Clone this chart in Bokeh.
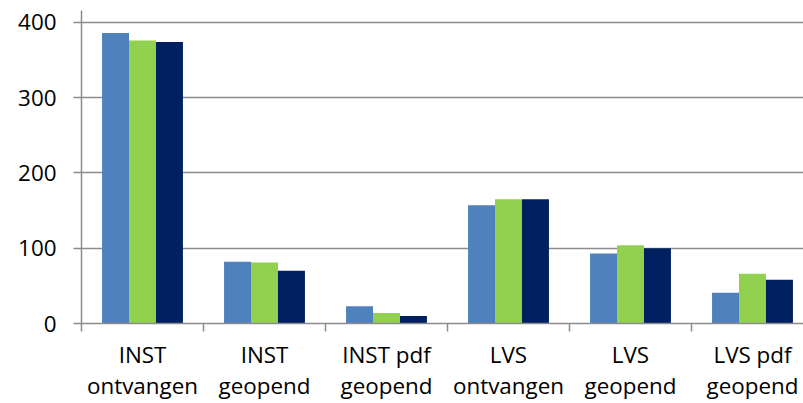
from bokeh.plotting import figure
from bokeh.models import ColumnDataSource, Range1d, FixedTicker
from bokeh.transform import dodge
from bokeh.embed import file_html
from bokeh.resources import INLINE

categories = ["INST\nontvangen", "INST\ngeopend", "INST pdf\ngeopend",
              "LVS\nontvangen", "LVS\ngeopend", "LVS pdf\ngeopend"]
series1 = [386, 82, 23, 157, 93, 41]
series2 = [376, 81, 14, 165, 104, 66]
series3 = [374, 70, 10, 165, 100, 58]
y_ticks = [0, 100, 200, 300, 400]

colors = ["#4F81BD", "#92D050", "#002060"]
FONT = "Open Sans"
GRAY = "#8c8c8c"
TXT = "#000000"

centers = [i + 0.5 for i in range(len(categories))]
source = ColumnDataSource(dict(x=centers, s1=series1, s2=series2, s3=series3))

W, H = 803, 403
left, bottom, top = 81, 79, 10
cat_px = 122.0
frame_w = W - left
frame_h = H - bottom - top
px_per_unit = 0.755
p = figure(width=W, height=H, output_backend="svg", toolbar_location=None,
           x_range=Range1d(0, frame_w / cat_px),
           y_range=Range1d(0, frame_h / px_per_unit),
           min_border_left=left, min_border_right=0, min_border_top=top,
           min_border_bottom=bottom)
p.outline_line_color = None
p.background_fill_color = "white"
p.border_fill_color = "white"

bw = 0.221
for col, off, c in [("s1", -bw, colors[0]), ("s2", 0.0, colors[1]), ("s3", bw, colors[2])]:
    p.vbar(x=dodge("x", off), top=col, width=bw, bottom=0, source=source,
           fill_color=c, line_color=None)

# y axis
p.yaxis.ticker = FixedTicker(ticks=y_ticks)
p.yaxis.axis_line_color = GRAY
p.yaxis.axis_line_width = 1.5
p.yaxis.major_tick_line_color = GRAY
p.yaxis.major_tick_line_width = 1.5
p.yaxis.major_tick_in = 0
p.yaxis.major_tick_out = 8
p.yaxis.minor_tick_line_color = None
p.yaxis.major_label_text_font = FONT
p.yaxis.major_label_text_font_size = "22.4px"
p.yaxis.major_label_text_color = TXT
p.yaxis.major_label_standoff = 17

# x axis: labels at category centres, tick marks at category boundaries
p.xaxis.ticker = FixedTicker(ticks=centers, minor_ticks=list(range(len(categories) + 1)))
p.xaxis.major_label_overrides = {c: lab for c, lab in zip(centers, categories)}
p.xaxis.axis_line_color = GRAY
p.xaxis.axis_line_width = 1.5
p.xaxis.major_tick_line_color = None
p.xaxis.minor_tick_line_color = GRAY
p.xaxis.minor_tick_line_width = 1.5
p.xaxis.minor_tick_in = 0
p.xaxis.minor_tick_out = 8
p.xaxis.major_label_text_font = FONT
p.xaxis.major_label_text_font_size = "22.4px"
p.xaxis.major_label_text_color = TXT
p.xaxis.major_label_text_line_height = 1.0
p.xaxis.major_label_standoff = 7

p.xgrid.grid_line_color = None
p.ygrid.ticker = FixedTicker(ticks=y_ticks)
p.ygrid.grid_line_color = GRAY
p.ygrid.grid_line_width = 1.5

open("out.html", "w").write(file_html(p, INLINE))
